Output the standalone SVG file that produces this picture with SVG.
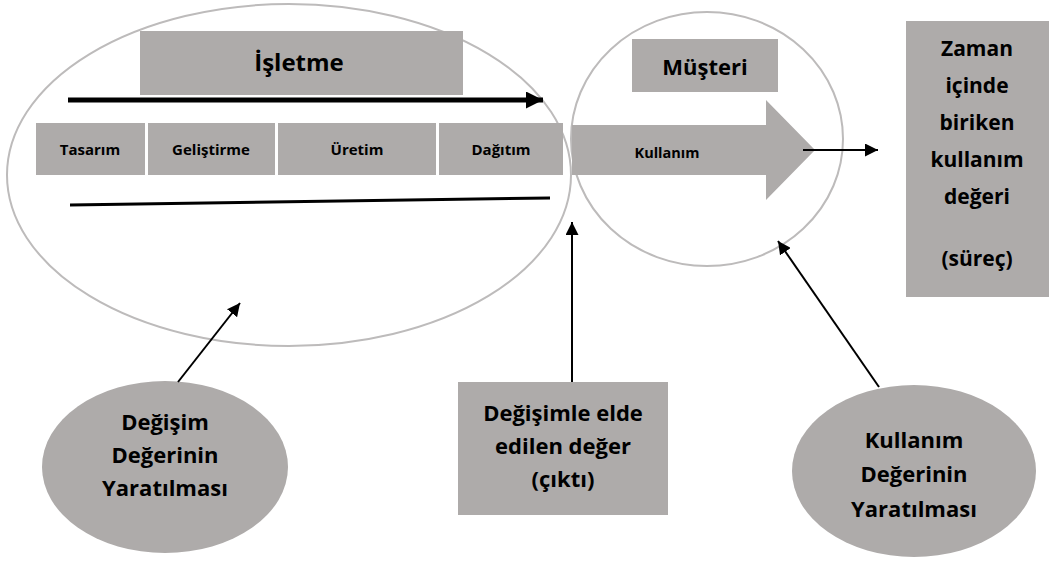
<svg xmlns="http://www.w3.org/2000/svg" width="1049" height="564" viewBox="0 0 1049 564">
<defs>
<style>
.box{fill:#AEABAA}
.ring{fill:none;stroke:#BDBBBB;stroke-width:2}
.t{font-family:"Open Sans","Liberation Sans",sans-serif;font-weight:bold;fill:#000;text-anchor:middle}
.ln{stroke:#000;fill:none}
</style>
<marker id="ah" viewBox="0 0 10 10" refX="10" refY="5" markerWidth="13" markerHeight="13" markerUnits="userSpaceOnUse" orient="auto"><path d="M0,0 L10,5 L0,10 z" fill="#000"/></marker>
<marker id="ahb" viewBox="0 0 10 10" refX="10" refY="5" markerWidth="20" markerHeight="17" markerUnits="userSpaceOnUse" orient="auto"><path d="M0,0 L10,5 L0,10 z" fill="#000"/></marker>
</defs>
<rect width="1049" height="564" fill="#fff"/>
<g id="isletme-area">
<ellipse class="ring" cx="289" cy="175" rx="282" ry="171"/>
</g>
<g id="musteri-area">
<ellipse class="ring" cx="707" cy="139" rx="136" ry="127"/>
</g>
<g id="isletme">
<rect class="box" x="140" y="31" width="323" height="64"/>
<text class="t" x="299" y="71" font-size="24">İşletme</text>
</g>
<g id="tasarim">
<rect class="box" x="36" y="123" width="109" height="52"/>
<text class="t" x="90" y="155" font-size="15">Tasarım</text>
</g>
<g id="gelistirme">
<rect class="box" x="148" y="123" width="127" height="52"/>
<text class="t" x="211" y="155" font-size="15">Geliştirme</text>
</g>
<g id="uretim">
<rect class="box" x="278" y="123" width="158" height="52"/>
<text class="t" x="357" y="155" font-size="15">Üretim</text>
</g>
<g id="dagitim">
<rect class="box" x="439" y="123" width="124" height="52"/>
<text class="t" x="501" y="155" font-size="15">Dağıtım</text>
</g>
<g id="musteri">
<rect class="box" x="632" y="39" width="146" height="53"/>
<text class="t" x="705" y="75" font-size="22">Müşteri</text>
</g>
<g id="kullanim">
<path class="box" d="M572,125 L766,125 L766,100 L815,150 L766,200 L766,175 L572,175 z"/>
<text class="t" x="667" y="158" font-size="14.5">Kullanım</text>
</g>
<g id="zaman">
<rect class="box" x="906" y="21" width="143" height="276"/>
<g class="t" font-size="21">
<text x="977" y="56">Zaman</text>
<text x="977" y="93">içinde</text>
<text x="977" y="130">biriken</text>
<text x="977" y="167">kullanım</text>
<text x="977" y="204">değeri</text>
<text x="977" y="266">(süreç)</text>
</g>
</g>
<g id="degisim">
<ellipse class="box" cx="165" cy="467" rx="123" ry="86"/>
<g class="t" font-size="22">
<text x="165" y="430">Değişim</text>
<text x="165" y="463">Değerinin</text>
<text x="165" y="496">Yaratılması</text>
</g>
</g>
<g id="cikti">
<rect class="box" x="458" y="382" width="210" height="133"/>
<g class="t" font-size="22">
<text x="563" y="421">Değişimle elde</text>
<text x="563" y="454">edilen değer</text>
<text x="563" y="487">(çıktı)</text>
</g>
</g>
<g id="kullanim-deger">
<ellipse class="box" cx="914" cy="471" rx="122" ry="86"/>
<g class="t" font-size="22">
<text x="914" y="448">Kullanım</text>
<text x="914" y="482">Değerinin</text>
<text x="914" y="517">Yaratılması</text>
</g>
</g>
<g id="connectors">
<line class="ln" x1="68" y1="100" x2="543" y2="100" stroke-width="5" marker-end="url(#ahb)"/>
<line class="ln" x1="70" y1="205" x2="550" y2="198" stroke-width="3"/>
<line class="ln" x1="803" y1="150" x2="878" y2="150" stroke-width="2" marker-end="url(#ah)"/>
<line class="ln" x1="178" y1="382" x2="240" y2="303" stroke-width="2" marker-end="url(#ah)"/>
<line class="ln" x1="572" y1="382" x2="572" y2="222" stroke-width="2" marker-end="url(#ah)"/>
<line class="ln" x1="879" y1="387" x2="778" y2="241" stroke-width="2" marker-end="url(#ah)"/>
</g>
</svg>
